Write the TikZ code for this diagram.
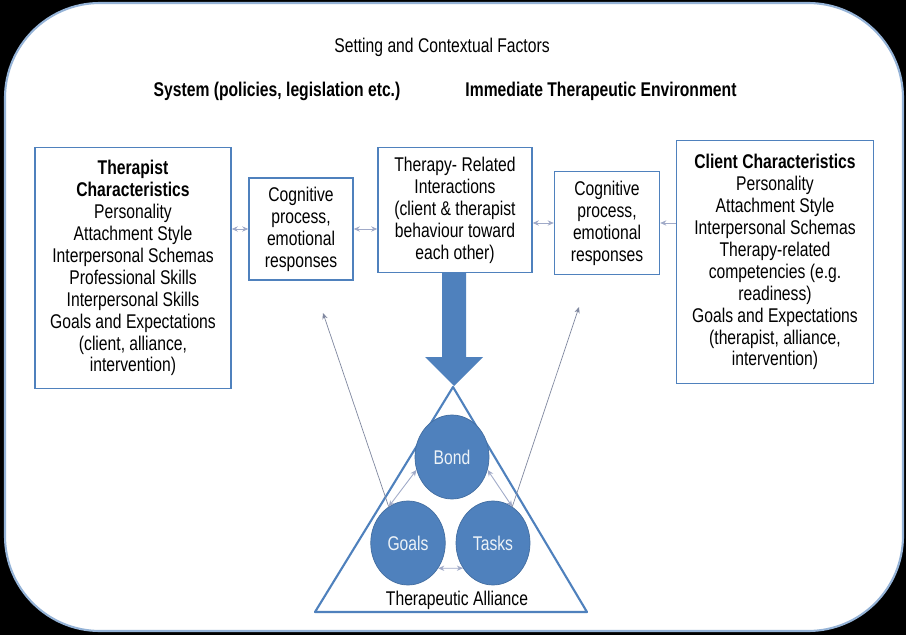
\documentclass[tikz,border=0pt]{standalone}
\usepackage{fontspec}
\setmainfont[FakeStretch=0.79]{Liberation Sans}
\usepackage{tikz}
\definecolor{officeblue}{RGB}{79, 129, 189}
\definecolor{linkgray}{RGB}{160, 170, 200}
\colorlet{primarycolor}{officeblue}
\usetikzlibrary{
  arrows.meta,
  calc,
  positioning,
  shapes.geometric,
}
\tikzset{
  >={Stealth[length=3.5pt, width=3pt]},
}

\begin{document}
\begin{tikzpicture}[x=0.02cm, y=-0.02cm, font=\fontsize{11.3}{12.5}\selectfont,
    box/.style={draw=primarycolor, line width=0.8pt, align=center, inner sep=2pt},
    link/.style={linkgray, line width=0.5pt, <->},
    feedback/.style={linkgray!80!black, line width=0.4pt, ->},
    factor/.style={ellipse, fill=primarycolor, draw=primarycolor!85!black,
                   minimum width=1.48cm, minimum height=1.68cm,
                   text=white!90!primarycolor}]
  \fill [black] (0,0) rectangle (906,635);
  \useasboundingbox (0,0) rectangle (906,635);
  \draw [fill=white, draw=primarycolor!60, line width=1.2pt, rounded corners=1.9cm]
        (5,3) rectangle (903,631);
  \node (setting) at (442,47) {Setting and Contextual Factors};
  \node (system) at (277,91) {\bfseries System (policies, legislation etc.)};
  \node (environment) at (601,91) {\bfseries Immediate Therapeutic Environment};
  \node [box, minimum width=3.92cm, minimum height=4.82cm] (therapist) at (133,268)
        {\textbf{Therapist}\\ \textbf{Characteristics}\\ Personality\\ Attachment Style\\
         Interpersonal Schemas\\ Professional Skills\\ Interpersonal Skills\\
         Goals and Expectations\\ (client, alliance,\\ intervention)};
  \node [box, minimum width=2.08cm, minimum height=2.04cm] (cogL) at (301,229)
        {Cognitive\\ process,\\ emotional\\ responses};
  \node [box, minimum width=3.08cm, minimum height=2.5cm] (interact) at (455,210)
        {Therapy- Related\\ Interactions\\ (client \& therapist\\ behaviour toward\\ each other)};
  \node [box, minimum width=2.1cm, minimum height=2.06cm] (cogR) at (607,223)
        {Cognitive\\ process,\\ emotional\\ responses};
  \node [box, minimum width=3.94cm, minimum height=4.86cm] (client) at (775,262)
        {\textbf{Client Characteristics}\\ Personality\\ Attachment Style\\
         Interpersonal Schemas\\ Therapy-related\\ competencies (e.g.\\ readiness)\\
         Goals and Expectations\\ (therapist, alliance,\\ intervention)};
  \draw [link] (therapist.east |- cogL.west) -- (cogL.west);
  \draw [link] (cogL.east) -- (cogL.east -| interact.west);
  \draw [link] (cogR.west -| interact.east) -- (cogR.west);
  \draw [link, <-] (cogR.east) -- (cogR.east -| client.west);
  % big arrow down into the alliance
  \fill [primarycolor] (interact.south -| 442,0) -- (interact.south -| 466,0) -- (466,357)
        -- (483,357) -- (454,386) -- (425,357) -- (442,357) -- cycle;
  \draw [primarycolor, line width=1.2pt, line join=round]
        (453,387) -- (587,612) -- (315,612) -- cycle;
  \node [factor] (bond) at (452,457) {Bond};
  \node [factor] (goals) at (408,543) {Goals};
  \node [factor] (tasks) at (493,543) {Tasks};
  \node (alliance) at (457,600) {Therapeutic Alliance};
  \draw [link] (goals.118) -- (bond.200);
  \draw [link] (tasks.62) -- (bond.-20);
  \draw [link] (goals.-40) -- (tasks.220);
  \coordinate (leftend) at (323,313);
  \coordinate (rightend) at (579,307);
  \draw [feedback] (goals.118) -- (leftend);
  \draw [feedback] (tasks.62) -- (rightend);
\end{tikzpicture}
\end{document}
